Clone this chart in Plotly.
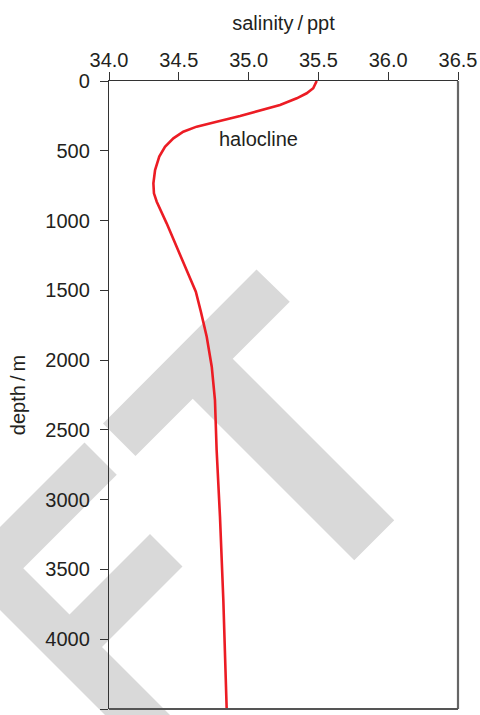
import plotly.graph_objects as go

# Salinity profile with depth (open ocean, typical mid-latitude)
salinity_ppt = [35.488, 35.463, 35.416, 35.345, 35.225, 35.082, 34.939, 34.771, 34.628,
                34.532, 34.461, 34.401, 34.360, 34.330, 34.318, 34.322, 34.342, 34.413,
                34.496, 34.544, 34.586, 34.622, 34.658, 34.700, 34.736, 34.759, 34.771,
                34.795, 34.819, 34.843]
depth_m = [0, 52, 88, 124, 172, 213, 251, 292, 327,
           363, 411, 471, 542, 638, 733, 805, 865, 1020,
           1211, 1318, 1414, 1510, 1653, 1832, 2047, 2286, 2644,
           3122, 3719, 4500]

salinity_ticks = [34.0, 34.5, 35.0, 35.5, 36.0, 36.5]
salinity_tick_labels = ["34.0", "34.5", "35.0", "35.5", "36.0", "36.5"]
depth_ticks = [0, 500, 1000, 1500, 2000, 2500, 3000, 3500, 4000, 4500]
depth_tick_labels = [str(d) for d in depth_ticks]

W, H = 480, 715
ML, MR, MT, MB = 109, 22, 81, 6
PW, PH = W - ML - MR, H - MT - MB

FONT = "Liberation Sans, Arial, Helvetica, sans-serif"
INK = "#231f20"


def to_paper(px, py):
    return (px - ML) / PW, (H - MB - py) / PH


def poly_path(points):
    pts = [to_paper(x, y) for x, y in points]
    return "M " + " L ".join(f"{x:.5f},{y:.5f}" for x, y in pts) + " Z"


# Grey diagonal "ET" watermark, given in figure pixels
wm_T = [(256.5, 269.5), (289.75, 301.75), (232.75, 358.75), (394.25, 520.25),
        (354.25, 560.25), (192.75, 398.75), (135.5, 456.0), (103.0, 423.5)]
wm_E = [(84.5, 442.5), (116.75, 474.75), (23.25, 568.25), (69.5, 614.5),
        (150.0, 534.0), (182.5, 566.5), (102.0, 647.0), (227.5, 772.5),
        (195.0, 805.0), (-41.5, 568.5)]

fig = go.Figure()
fig.add_trace(go.Scatter(
    x=salinity_ppt, y=depth_m, mode="lines",
    line=dict(color="#ec1c24", width=2.6, shape="linear"),
    hoverinfo="skip", showlegend=False,
))

fig.add_annotation(
    x=35.07, y=418, xref="x", yref="y", text="halocline", showarrow=False,
    font=dict(family=FONT, size=20, color=INK), xanchor="center", yanchor="middle",
)

for pts in (wm_T, wm_E):
    fig.add_shape(type="path", path=poly_path(pts), xref="paper", yref="paper",
                  fillcolor="#d9d9d9", line=dict(width=0), layer="below")

# Frame: lighter right and bottom edges
fig.add_shape(type="line", xref="paper", yref="paper", x0=1, x1=1, y0=0, y1=1,
              line=dict(color="#666666", width=2.2))
fig.add_shape(type="line", xref="paper", yref="paper", x0=0, x1=1, y0=0, y1=0,
              line=dict(color="#555555", width=2))

axis_common = dict(
    showgrid=False, zeroline=False, showline=True, mirror=False,
    linecolor="#333333", linewidth=1.3,
    ticks="outside", ticklen=8, tickwidth=1.2, tickcolor="#333333",
    tickfont=dict(family=FONT, size=20, color=INK),
)

fig.update_xaxes(
    side="top", range=[34.0, 36.5], tickvals=salinity_ticks, ticktext=salinity_tick_labels,
    title=dict(text="salinity\u2009/\u2009ppt", font=dict(family=FONT, size=20, color=INK), standoff=12),
    ticklabelstandoff=-3,
    **axis_common,
)
fig.update_yaxes(
    range=[4500, 0], tickvals=depth_ticks, ticktext=depth_tick_labels,
    title=dict(text="depth\u2009/\u2009m", font=dict(family=FONT, size=20, color=INK), standoff=14),
    ticklabelstandoff=6,
    **axis_common,
)

fig.update_layout(
    width=W, height=H,
    margin=dict(l=ML, r=MR, t=MT, b=MB, autoexpand=False),
    paper_bgcolor="white", plot_bgcolor="rgba(0,0,0,0)",
    showlegend=False,
)

fig.write_html("out.html")
